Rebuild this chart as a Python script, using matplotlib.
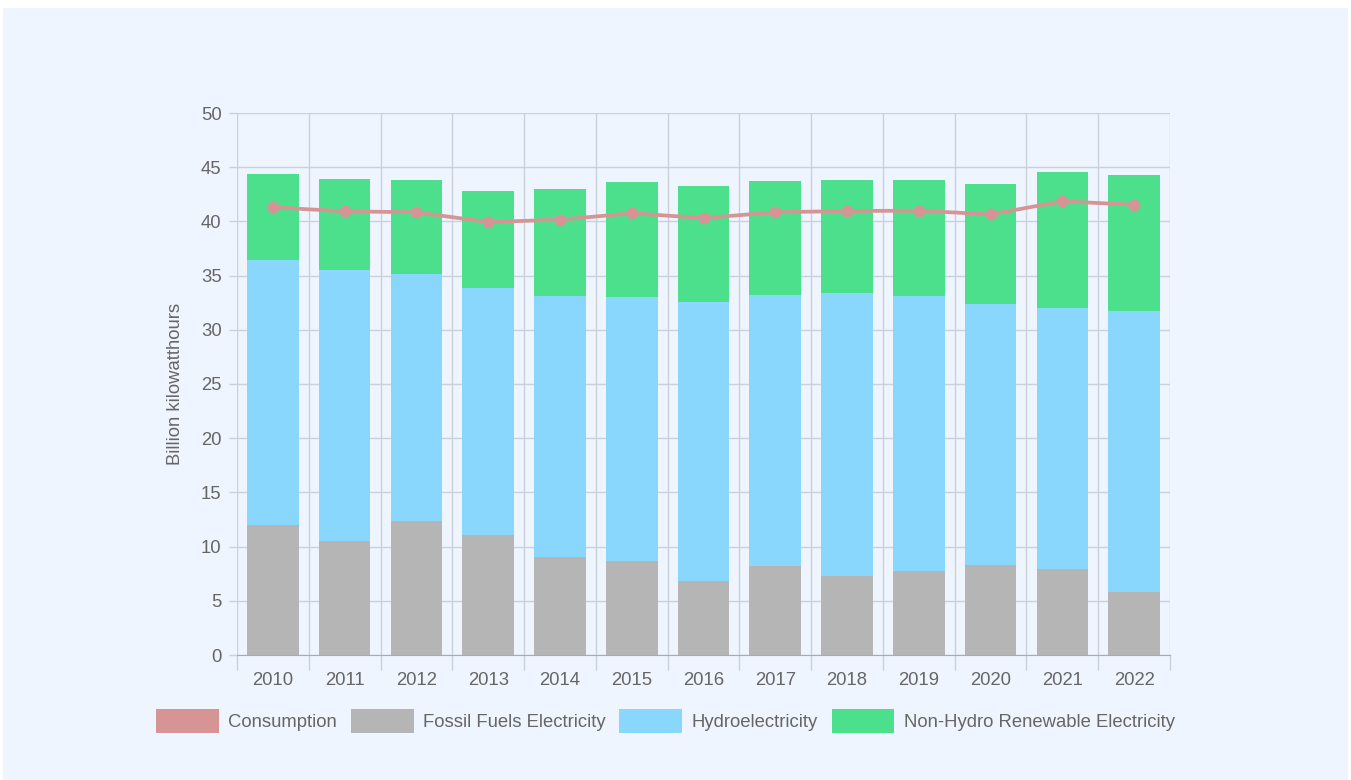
import matplotlib
matplotlib.use("Agg")
import matplotlib.pyplot as plt
import matplotlib.patches as mpatches
import matplotlib.ticker as mticker
import numpy as np

# Chart data (billion kWh)
YEARS = ["2010", "2011", "2012", "2013", "2014", "2015", "2016",
         "2017", "2018", "2019", "2020", "2021", "2022"]
FOSSIL = [12.0, 10.54, 12.39, 11.07, 9.01, 8.70, 6.80, 8.24, 7.29, 7.72, 8.27, 7.96, 5.84]
HYDRO = [24.47, 24.95, 22.76, 22.82, 24.08, 24.33, 25.76, 24.97, 26.10, 25.37, 24.11, 24.05, 25.89]
NON_HYDRO = [7.93, 8.42, 8.64, 8.91, 9.90, 10.63, 10.68, 10.54, 10.43, 10.73, 11.04, 12.55, 12.52]
CONSUMPTION = [41.30, 40.93, 40.84, 39.94, 40.16, 40.75, 40.31, 40.84, 40.96, 40.99, 40.65, 41.85, 41.54]

BG = "#EEF5FE"
GRID = "#CBD1DA"
TEXT = "#666666"
C_CONS = "#D69494"
C_FOSSIL = "#B5B5B5"
C_HYDRO = "#8AD7FE"
C_NONHYDRO = "#4DE08C"

plt.rcParams.update({
    "font.family": ["Liberation Sans", "DejaVu Sans"],
    "font.size": 13.3,
    "text.color": TEXT,
})

fig = plt.figure(figsize=(13.51, 7.8), dpi=100, facecolor="white")
# light panel behind the chart
fig.patches.append(mpatches.Rectangle((3 / 1351, 0), 1345 / 1351, 772 / 780,
                                      transform=fig.transFigure, facecolor=BG,
                                      edgecolor="none", zorder=-10))

ax = fig.add_axes([237 / 1351, 1 - 655 / 780, 933 / 1351, 542 / 780])
ax.set_facecolor(BG)

x = np.arange(len(YEARS))
fossil = np.array(FOSSIL)
hydro = np.array(HYDRO)
nonhydro = np.array(NON_HYDRO)
width = 0.72

ax.bar(x, fossil, width=width, color=C_FOSSIL, zorder=2)
ax.bar(x, hydro, width=width, bottom=fossil, color=C_HYDRO, zorder=2)
ax.bar(x, nonhydro, width=width, bottom=fossil + hydro, color=C_NONHYDRO, zorder=2)
ax.plot(x, CONSUMPTION, color=C_CONS, linewidth=2.7, marker="o", markersize=7.5,
        zorder=4)

ax.set_xlim(-0.5, len(YEARS) - 0.5)
ax.set_ylim(0, 50)

ax.set_xticks(x)
ax.set_xticklabels(YEARS)
ax.xaxis.set_minor_locator(mticker.FixedLocator(np.arange(len(YEARS) + 1) - 0.5))
ax.yaxis.set_major_locator(mticker.MultipleLocator(5))

ax.tick_params(axis="x", which="major", length=0, pad=12, labelsize=13.3, labelcolor=TEXT)
ax.tick_params(axis="x", which="minor", length=11, color=GRID, width=1)
ax.tick_params(axis="y", length=6, color=GRID, width=1, pad=5, labelsize=13.3,
               labelcolor=TEXT)

ax.grid(axis="y", which="major", color=GRID, linewidth=1, zorder=0)
ax.grid(axis="x", which="minor", color=GRID, linewidth=1, zorder=0)

for side in ["top", "right", "left"]:
    ax.spines[side].set_visible(False)
ax.spines["bottom"].set_color("#A8ACB2")
ax.spines["bottom"].set_zorder(3)

ax.set_ylabel("Billion kilowatthours", fontsize=13.3, color=TEXT, labelpad=12)

handles = [
    mpatches.Patch(facecolor=C_CONS, label="Consumption"),
    mpatches.Patch(facecolor=C_FOSSIL, label="Fossil Fuels Electricity"),
    mpatches.Patch(facecolor=C_HYDRO, label="Hydroelectricity"),
    mpatches.Patch(facecolor=C_NONHYDRO, label="Non-Hydro Renewable Electricity"),
]
fig.legend(handles=handles, loc="center", bbox_to_anchor=(665.5 / 1351, 1 - 721 / 780),
           ncol=4, frameon=False, fontsize=13.3, handlelength=3.4, handleheight=1.6,
           handletextpad=0.5, columnspacing=0.75, labelcolor=TEXT)

fig.savefig("out.png", dpi=100, facecolor="white")
